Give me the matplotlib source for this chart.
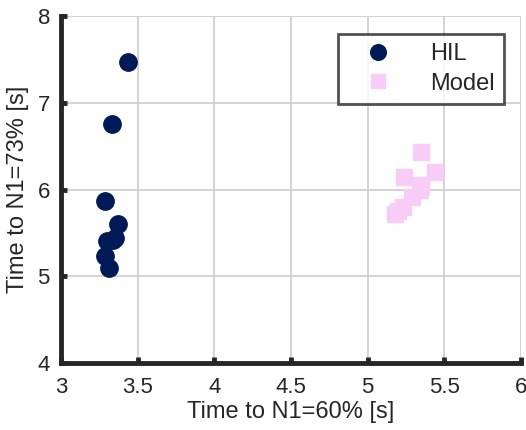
import numpy as np
import matplotlib.pyplot as plt

# datos
hil_x = [3.44, 3.33, 3.29, 3.37, 3.30, 3.35, 3.34, 3.29, 3.31]
hil_y = [7.47, 6.75, 5.87, 5.60, 5.41, 5.44, 5.42, 5.23, 5.09]

model_x = [5.35, 5.44, 5.24, 5.35, 5.34, 5.29, 5.23, 5.20, 5.18]
model_y = [6.43, 6.20, 6.14, 6.05, 6.00, 5.91, 5.80, 5.75, 5.72]

xticks = [3, 3.5, 4, 4.5, 5, 5.5, 6]
xtick_labels = ["3", "3.5", "4", "4.5", "5", "5.5", "6"]
yticks = [4, 5, 6, 7, 8]

plt.rcParams['font.family'] = ['Liberation Sans', 'DejaVu Sans']
plt.rcParams['text.color'] = '#262626'
plt.rcParams['xtick.labelcolor'] = '#262626'
plt.rcParams['ytick.labelcolor'] = '#262626'

fig = plt.figure(figsize=(5.26, 4.30), dpi=100)
ax = fig.add_axes([61/526, 1 - 363/430, 460/526, 347/430])

ax.plot(hil_x, hil_y, 'o', color='#001a57', ms=12.5, mec='#001a57', label='HIL', zorder=3)
ax.plot(model_x, model_y, 's', color='#f7ccf7', ms=11.5, mec='#f7ccf7', label='Model', zorder=3)

ax.set_xlim(3, 6)
ax.set_ylim(4, 8)
ax.set_xticks(xticks)
ax.set_xticklabels(xtick_labels)
ax.set_yticks(yticks)
ax.grid(True, color='#d0d0d0', linewidth=1.3)
ax.set_axisbelow(True)

for s in ['top', 'right']:
    ax.spines[s].set_visible(False)
for s in ['left', 'bottom']:
    ax.spines[s].set_linewidth(3.5)
    ax.spines[s].set_color('#262626')
ax.tick_params(direction='in', length=4, width=3.5, color='#262626', labelsize=16)
ax.tick_params(axis='x', pad=10)
ax.tick_params(axis='y', pad=8)

ax.set_xlabel("Time to N1=60% [s]", fontsize=17, labelpad=2, color='#262626')
ax.set_ylabel("Time to N1=73% [s]", fontsize=17, labelpad=6, color='#262626')

leg = ax.legend(loc='upper right', bbox_to_anchor=(0.963, 0.948), fontsize=17,
                frameon=True, fancybox=False, markerscale=0.9, borderpad=0.4,
                borderaxespad=0, handletextpad=0.9, labelspacing=0.3,
                handlelength=2.6)
leg.get_frame().set_edgecolor('#262626')
leg.get_frame().set_linewidth(2)

plt.savefig("out.png", dpi=100)
